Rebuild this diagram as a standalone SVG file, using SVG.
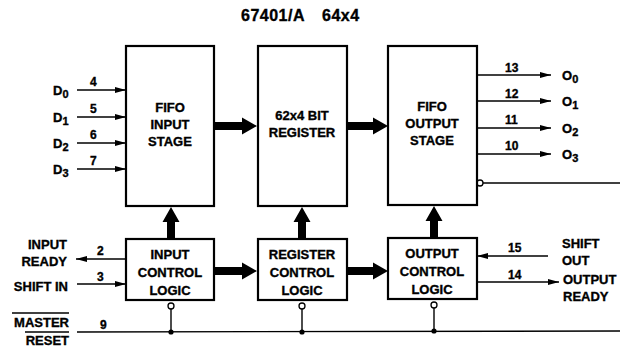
<svg xmlns="http://www.w3.org/2000/svg" width="620" height="348" viewBox="0 0 620 348">
<style>
text{font-family:"Liberation Sans",Arial,sans-serif;font-weight:bold;fill:#000;stroke:#000;stroke-width:0.35}
.box{fill:#fff;stroke:#000;stroke-width:2.2}
.lbl{font-size:13px;text-anchor:middle}
.pin{font-size:12px}
.sig{font-size:13px}
.thin{stroke:#000;stroke-width:1.4;fill:none}
.thick{fill:#000;stroke:none}
.bub{fill:#fff;stroke:#000;stroke-width:1.3}
</style>
<defs>
<marker id="ah" markerWidth="12" markerHeight="8" refX="11" refY="4" orient="auto" markerUnits="userSpaceOnUse">
<path d="M0,1 L11,4 L0,7 Z" fill="#000"/>
</marker>
</defs>
<rect width="620" height="348" fill="#fff"/>
<text x="241" y="21" font-size="16" letter-spacing="0.5">67401/A</text>
<text x="322" y="21" font-size="16" letter-spacing="0.5">64x4</text>

<g id="connectors">
<!-- thick data arrows -->
<path class="thick" d="M214,122 H242 V117.5 L257,126 L242,134.5 V130 H214 Z"/>
<path class="thick" d="M347,122 H373 V117.5 L388,126 L373,134.5 V130 H347 Z"/>
<path class="thick" d="M214,267 H242 V262.5 L257,271 L242,279.5 V275 H214 Z"/>
<path class="thick" d="M347,267 H373 V262.5 L388,271 L373,279.5 V275 H347 Z"/>
<path class="thick" d="M167,239 V222 H162.5 L171,207 L179.5,222 H175 V239 Z"/>
<path class="thick" d="M298,239 V222 H293.5 L302,207 L310.5,222 H306 V239 Z"/>
<path class="thick" d="M430,238 V221 H425.5 L434,206 L442.5,221 H438 V238 Z"/>
<!-- data inputs -->
<line class="thin" x1="77" y1="90" x2="126" y2="90" marker-end="url(#ah)"/>
<line class="thin" x1="77" y1="117" x2="126" y2="117" marker-end="url(#ah)"/>
<line class="thin" x1="77" y1="143" x2="126" y2="143" marker-end="url(#ah)"/>
<line class="thin" x1="77" y1="169" x2="126" y2="169" marker-end="url(#ah)"/>
<!-- data outputs -->
<line class="thin" x1="477" y1="75" x2="551" y2="75" marker-end="url(#ah)"/>
<line class="thin" x1="477" y1="101" x2="551" y2="101" marker-end="url(#ah)"/>
<line class="thin" x1="477" y1="128" x2="551" y2="128" marker-end="url(#ah)"/>
<line class="thin" x1="477" y1="154" x2="551" y2="154" marker-end="url(#ah)"/>
<circle class="bub" cx="480" cy="183" r="3"/>
<line class="thin" x1="483" y1="183" x2="620" y2="183"/>
<!-- control signals -->
<line class="thin" x1="126" y1="259" x2="76" y2="259" marker-end="url(#ah)"/>
<line class="thin" x1="77" y1="284" x2="126" y2="284" marker-end="url(#ah)"/>
<line class="thin" x1="548" y1="256" x2="477" y2="256" marker-end="url(#ah)"/>
<line class="thin" x1="477" y1="282" x2="559" y2="282" marker-end="url(#ah)"/>
<!-- master reset -->
<line class="thin" x1="77" y1="332" x2="620" y2="331"/>
<circle class="bub" cx="171" cy="306" r="3"/>
<line class="thin" x1="171" y1="309" x2="171" y2="332"/>
<circle cx="171" cy="332" r="2.6" fill="#000"/>
<circle class="bub" cx="302" cy="306" r="3"/>
<line class="thin" x1="302" y1="309" x2="302" y2="332"/>
<circle cx="302" cy="332" r="2.6" fill="#000"/>
<circle class="bub" cx="434" cy="305" r="3"/>
<line class="thin" x1="434" y1="308" x2="434" y2="331"/>
<circle cx="434" cy="331" r="2.6" fill="#000"/>
</g>

<g id="fifo-input-stage">
<rect class="box" x="126" y="46" width="88" height="160"/>
<text class="lbl" x="170" y="112">FIFO</text>
<text class="lbl" x="170" y="129">INPUT</text>
<text class="lbl" x="170" y="146">STAGE</text>
</g>
<g id="register">
<rect class="box" x="258" y="46" width="89" height="160"/>
<text class="lbl" x="302" y="120">62x4 BIT</text>
<text class="lbl" x="302" y="137">REGISTER</text>
</g>
<g id="fifo-output-stage">
<rect class="box" x="388" y="46" width="89" height="159"/>
<text class="lbl" x="432" y="111">FIFO</text>
<text class="lbl" x="432" y="128">OUTPUT</text>
<text class="lbl" x="432" y="145">STAGE</text>
</g>
<g id="input-control-logic">
<rect class="box" x="126" y="239" width="88" height="61"/>
<text class="lbl" x="170" y="259">INPUT</text>
<text class="lbl" x="170" y="277">CONTROL</text>
<text class="lbl" x="170" y="295">LOGIC</text>
</g>
<g id="register-control-logic">
<rect class="box" x="258" y="239" width="89" height="61"/>
<text class="lbl" x="302" y="259">REGISTER</text>
<text class="lbl" x="302" y="277">CONTROL</text>
<text class="lbl" x="302" y="295">LOGIC</text>
</g>
<g id="output-control-logic">
<rect class="box" x="388" y="238" width="89" height="61"/>
<text class="lbl" x="432" y="258">OUTPUT</text>
<text class="lbl" x="432" y="276">CONTROL</text>
<text class="lbl" x="432" y="294">LOGIC</text>
</g>

<g id="input-labels">
<text class="sig" x="53" y="95">D<tspan font-size="11" dy="3">0</tspan></text>
<text class="sig" x="53" y="122">D<tspan font-size="11" dy="3">1</tspan></text>
<text class="sig" x="53" y="148">D<tspan font-size="11" dy="3">2</tspan></text>
<text class="sig" x="53" y="174">D<tspan font-size="11" dy="3">3</tspan></text>
<text class="pin" x="90" y="86">4</text>
<text class="pin" x="90" y="113">5</text>
<text class="pin" x="90" y="139">6</text>
<text class="pin" x="90" y="165">7</text>
</g>
<g id="output-labels">
<text class="sig" x="562" y="80">O<tspan font-size="11" dy="3">0</tspan></text>
<text class="sig" x="562" y="106">O<tspan font-size="11" dy="3">1</tspan></text>
<text class="sig" x="562" y="133">O<tspan font-size="11" dy="3">2</tspan></text>
<text class="sig" x="562" y="159">O<tspan font-size="11" dy="3">3</tspan></text>
<text class="pin" x="505" y="72">13</text>
<text class="pin" x="505" y="98">12</text>
<text class="pin" x="505" y="124">11</text>
<text class="pin" x="505" y="150">10</text>
</g>
<g id="control-labels">
<text class="sig" x="67" y="249" text-anchor="end">INPUT</text>
<text class="sig" x="67" y="266" text-anchor="end">READY</text>
<text class="pin" x="97" y="255">2</text>
<text class="sig" x="68" y="291" text-anchor="end">SHIFT IN</text>
<text class="pin" x="97" y="281">3</text>
<line class="thin" x1="12" y1="313" x2="69" y2="313"/>
<text class="sig" x="69" y="327" text-anchor="end">MASTER</text>
<line class="thin" x1="25" y1="332" x2="69" y2="332"/>
<text class="sig" x="69" y="345" text-anchor="end">RESET</text>
<text class="pin" x="100" y="329">9</text>
<text class="sig" x="562" y="248">SHIFT</text>
<text class="sig" x="562" y="265">OUT</text>
<text class="pin" x="508" y="252">15</text>
<text class="sig" x="563" y="284">OUTPUT</text>
<text class="sig" x="563" y="301">READY</text>
<text class="pin" x="508" y="279">14</text>
</g>
</svg>
